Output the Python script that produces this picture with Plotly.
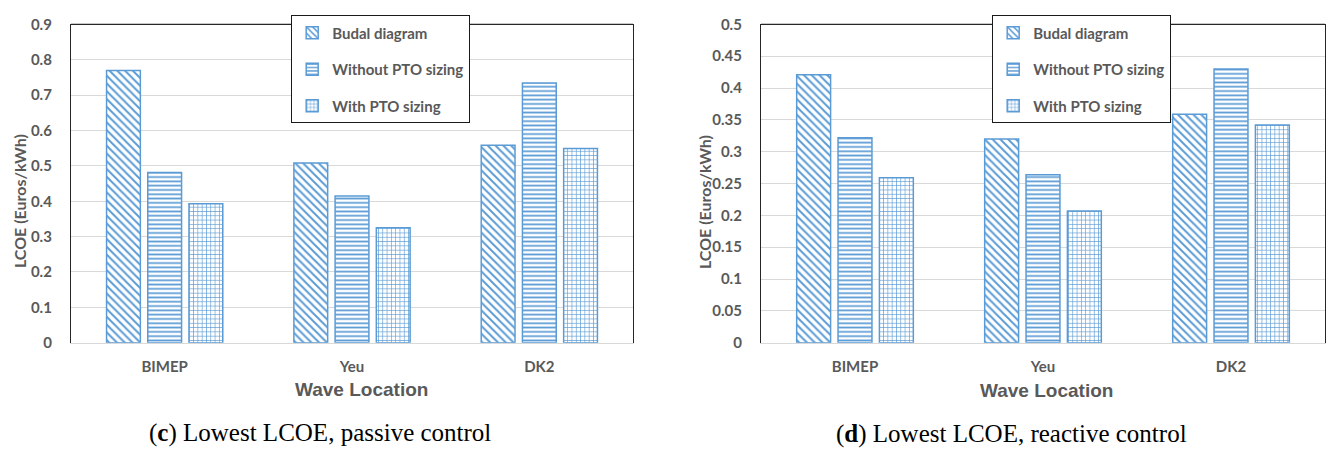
import plotly.graph_objects as go
from plotly.subplots import make_subplots

# Wave sites and LCOE values (Euros/kWh)
locations = ["BIMEP", "Yeu", "DK2"]
series_names = ["Budal diagram", "Without PTO sizing", "With PTO sizing"]

passive_budal = [0.77, 0.508, 0.558]
passive_without = [0.481, 0.415, 0.734]
passive_with = [0.393, 0.325, 0.549]

reactive_budal = [0.421, 0.32, 0.359]
reactive_without = [0.322, 0.264, 0.43]
reactive_with = [0.259, 0.207, 0.342]

passive_ticks = [0, 0.1, 0.2, 0.3, 0.4, 0.5, 0.6, 0.7, 0.8, 0.9]
reactive_ticks = [0, 0.05, 0.1, 0.15, 0.2, 0.25, 0.3, 0.35, 0.4, 0.45, 0.5]

BLUE = "#5B9BD5"
GREY_TXT = "#595959"
GRID = "#D9D9D9"
W, H = 1328, 453

patterns = [
    dict(shape="\\", size=5.5, solidity=0.35),
    dict(shape="-", size=4.3, solidity=0.4),
    dict(shape="+", size=4.3, solidity=0.28),
]

fig = make_subplots(rows=1, cols=2)

def add_bars(values_list, col, legend_name):
    for name, vals, pat in zip(series_names, values_list, patterns):
        fig.add_trace(
            go.Bar(
                x=locations, y=vals, name=name,
                legend=legend_name, legendgroup=legend_name + name,
                marker=dict(
                    color="white",
                    line=dict(color=BLUE, width=1.5),
                    pattern=dict(fgcolor=BLUE, bgcolor="white", fillmode="replace", **pat),
                ),
            ),
            row=1, col=col,
        )

add_bars([passive_budal, passive_without, passive_with], 1, "legend")
add_bars([reactive_budal, reactive_without, reactive_with], 2, "legend2")

def px_x(v):
    return v / W

def px_y(v):
    return 1 - v / H

left_dom = [px_x(71), px_x(633)]
right_dom = [px_x(761), px_x(1325)]
y_dom = [px_y(346.5), px_y(15)]

tick_font = dict(family="Lato", size=15, color=GREY_TXT, weight="bold")

axis_x = dict(showgrid=False, showline=True, linecolor=GRID, linewidth=1,
              ticks="", tickfont=tick_font, ticklabelstandoff=10, fixedrange=True)
fig.update_xaxes(domain=left_dom, row=1, col=1, **axis_x)
fig.update_xaxes(domain=right_dom, row=1, col=2, **axis_x)

axis_y = dict(showgrid=True, gridcolor=GRID, gridwidth=1, zeroline=False,
              showline=True, mirror=True, linecolor="#262626", linewidth=1.2,
              ticks="", tickfont=tick_font, ticklabelstandoff=15, domain=y_dom)
fig.update_yaxes(range=[0, 0.9], tickvals=passive_ticks, row=1, col=1, **axis_y)
fig.update_yaxes(range=[0, 0.5], tickvals=reactive_ticks, row=1, col=2, **axis_y)

# top edge of each plot frame
for xr, yr in (("x domain", "y domain"), ("x2 domain", "y2 domain")):
    fig.add_shape(type="line", xref=xr, yref=yr, x0=0, x1=1, y0=1, y1=1,
                  line=dict(color="#262626", width=1.2))

legend_style = dict(
    xanchor="left", yanchor="top",
    bgcolor="white", bordercolor="#1a1a1a", borderwidth=1.2,
    font=dict(family="Lato", size=15, color=GREY_TXT, weight="bold"),
    tracegroupgap=14, traceorder="grouped", itemwidth=30,
)

fig.update_layout(
    width=W, height=H,
    margin=dict(l=0, r=0, t=0, b=0),
    paper_bgcolor="white", plot_bgcolor="white",
    barmode="group", bargap=0.34, bargroupgap=0.18,
    legend=dict(x=px_x(291), y=px_y(5.5), **legend_style),
    legend2=dict(x=px_x(992), y=px_y(5.5), **legend_style),
    showlegend=True,
)

title_font = dict(family="Lato", size=16, color=GREY_TXT, weight="bold")
xt_font = dict(family="Liberation Sans", size=19, color=GREY_TXT, weight="bold")
cap_font = dict(family="Liberation Serif", size=25, color="black")

annots = [
    dict(x=px_x(19), y=px_y(199), text="LCOE (Euros/kWh)", textangle=-90, font=title_font),
    dict(x=px_x(704), y=px_y(200), text="LCOE (Euros/kWh)", textangle=-90, font=title_font),
    dict(x=px_x(361), y=px_y(395), text="Wave Location", font=xt_font),
    dict(x=px_x(1046), y=px_y(396), text="Wave Location", font=xt_font),
    dict(x=px_x(320), y=px_y(441), text="(<b>c</b>) Lowest LCOE, passive control", font=cap_font),
    dict(x=px_x(1011), y=px_y(442), text="(<b>d</b>) Lowest LCOE, reactive control", font=cap_font),
]
for a in annots:
    fig.add_annotation(xref="paper", yref="paper", showarrow=False,
                       xanchor="center", yanchor="middle", **a)

fig.write_html("out.html")
